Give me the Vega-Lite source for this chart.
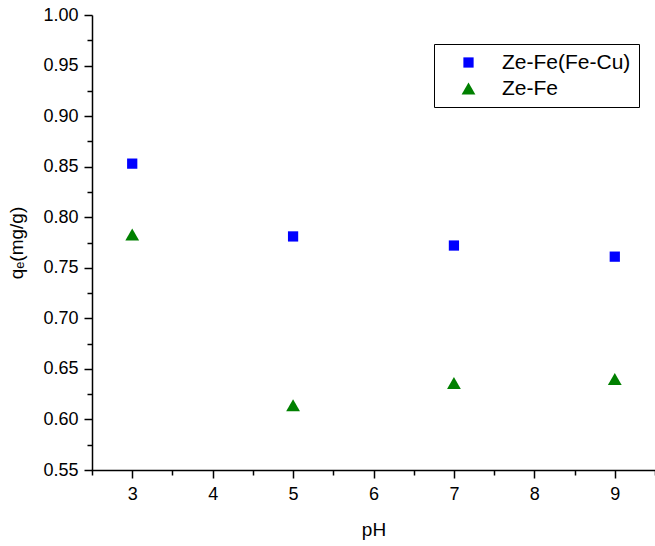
{
  "$schema": "https://vega.github.io/schema/vega-lite/v6.json",
  "width": 563,
  "height": 455,
  "autosize": {"type": "none"},
  "padding": {"left": 92, "top": 15, "right": 0, "bottom": 76},
  "background": "white",
  "config": {
    "view": {"stroke": null},
    "font": "Liberation Sans"
  },
  "data": {
    "values": [
      {"pH": 3, "qe": 0.853, "series": "Ze-Fe(Fe-Cu)"},
      {"pH": 5, "qe": 0.781, "series": "Ze-Fe(Fe-Cu)"},
      {"pH": 7, "qe": 0.772, "series": "Ze-Fe(Fe-Cu)"},
      {"pH": 9, "qe": 0.761, "series": "Ze-Fe(Fe-Cu)"},
      {"pH": 3, "qe": 0.783, "series": "Ze-Fe"},
      {"pH": 5, "qe": 0.614, "series": "Ze-Fe"},
      {"pH": 7, "qe": 0.636, "series": "Ze-Fe"},
      {"pH": 9, "qe": 0.640, "series": "Ze-Fe"}
    ]
  },
  "resolve": {"axis": {"x": "independent", "y": "independent"}},
  "layer": [
    {
      "mark": {"type": "point", "opacity": 0},
      "encoding": {
        "x": {
          "field": "pH", "type": "quantitative",
          "scale": {"domain": [2.5, 9.5], "nice": false, "zero": false},
          "axis": {
            "orient": "bottom", "title": null, "labels": false, "domain": false, "grid": false,
            "values": [2.5, 3.5, 4.5, 5.5, 6.5, 7.5, 8.5, 9.5],
            "tickColor": "black", "tickWidth": 1.5, "tickSize": 5
          }
        },
        "y": {
          "field": "qe", "type": "quantitative",
          "scale": {"domain": [0.55, 1.0], "nice": false, "zero": false},
          "axis": {
            "orient": "left", "title": null, "labels": false, "domain": false, "grid": false,
            "values": [0.575, 0.625, 0.675, 0.725, 0.775, 0.825, 0.875, 0.925, 0.975],
            "tickColor": "black", "tickWidth": 1.5, "tickSize": 5
          }
        }
      }
    },
    {
      "mark": {"type": "point", "filled": true, "opacity": 1},
      "encoding": {
        "x": {
          "field": "pH", "type": "quantitative",
          "scale": {"domain": [2.5, 9.5], "nice": false, "zero": false},
          "axis": {
            "orient": "bottom",
            "title": "pH", "titleFontSize": 19, "titleFontWeight": "normal", "titleColor": "black", "titlePadding": 17,
            "values": [3, 4, 5, 6, 7, 8, 9], "format": "d",
            "labelFontSize": 18, "labelColor": "black", "labelPadding": 7,
            "grid": false, "domainColor": "black", "domainWidth": 1.5,
            "tickColor": "black", "tickWidth": 1.5, "tickSize": 8,
            "domainCap": "square"
          }
        },
        "y": {
          "field": "qe", "type": "quantitative",
          "scale": {"domain": [0.55, 1.0], "nice": false, "zero": false},
          "axis": {
            "orient": "left",
            "title": "qₑ(mg/g)", "titleFontSize": 19, "titleFontWeight": "normal", "titleColor": "black", "titlePadding": 16,
            "values": [0.55, 0.6, 0.65, 0.7, 0.75, 0.8, 0.85, 0.9, 0.95, 1.0], "format": ".2f",
            "labelFontSize": 18, "labelColor": "black", "labelPadding": 6,
            "grid": false, "domainColor": "black", "domainWidth": 1.5,
            "tickColor": "black", "tickWidth": 1.5, "tickSize": 8
          }
        },
        "color": {
          "field": "series", "type": "nominal",
          "scale": {"domain": ["Ze-Fe(Fe-Cu)", "Ze-Fe"], "range": ["#0000FF", "#008000"]},
          "legend": {
            "title": null, "orient": "none", "legendX": 342, "legendY": 29,
            "labelFontSize": 21, "labelColor": "black", "symbolSize": 120,
            "strokeColor": "black", "fillColor": "white", "padding": 8,
            "rowPadding": 4, "labelOffset": 23, "symbolOffset": 16, "offset": 0,
            "labelLimit": 300
          }
        },
        "shape": {
          "field": "series", "type": "nominal",
          "scale": {"domain": ["Ze-Fe(Fe-Cu)", "Ze-Fe"], "range": ["square", "triangle-up"]},
          "legend": null
        },
        "size": {
          "field": "series", "type": "nominal",
          "scale": {"domain": ["Ze-Fe(Fe-Cu)", "Ze-Fe"], "range": [105, 190]},
          "legend": null
        }
      }
    }
  ]
}
